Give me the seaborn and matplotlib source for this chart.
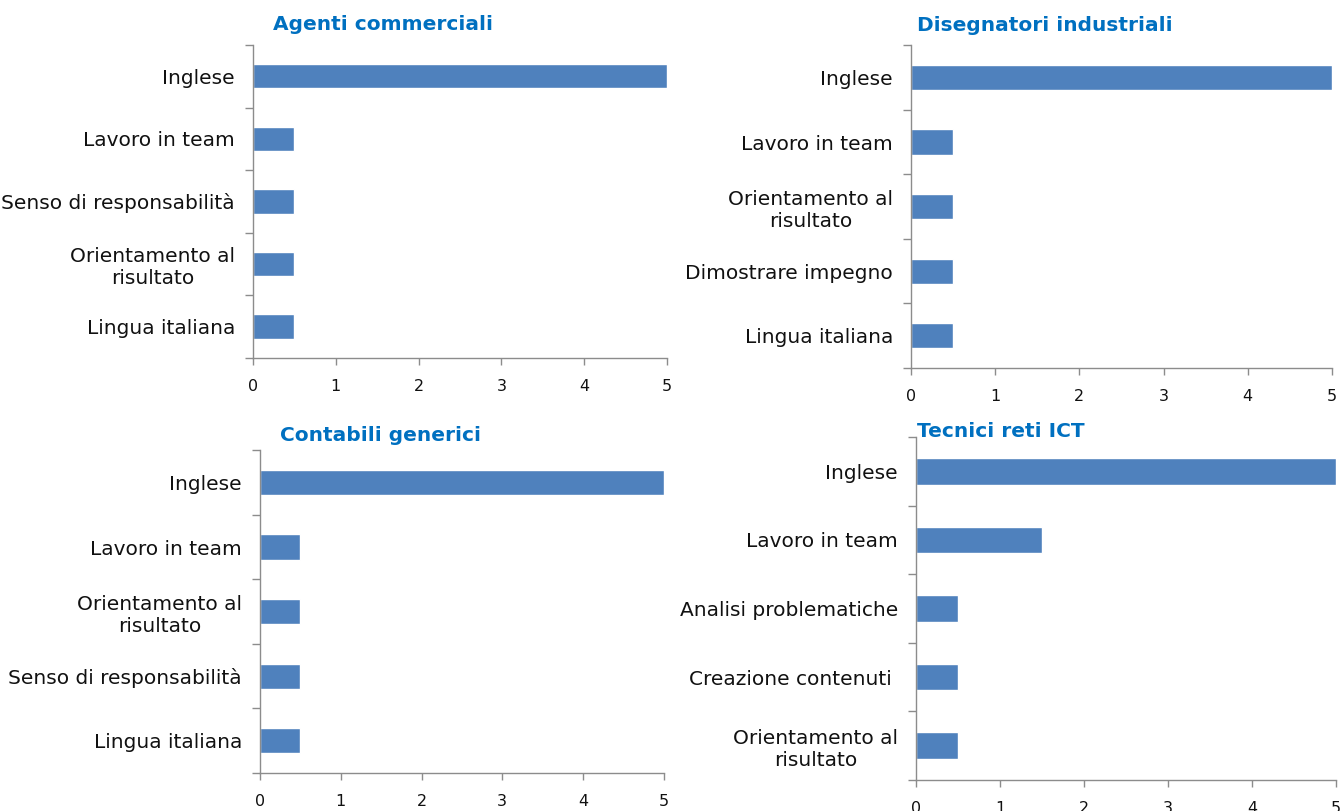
import pandas as pd
import matplotlib.pyplot as plt
import seaborn as sns

# data
titles = ['Agenti commerciali', 'Disegnatori industriali', 'Contabili generici', 'Tecnici reti ICT']
skills_agenti = ['Inglese', 'Lavoro in team', 'Senso di responsabilità', 'Orientamento al\nrisultato', 'Lingua italiana']
values_agenti = [5, 0.5, 0.5, 0.5, 0.5]
skills_disegnatori = ['Inglese', 'Lavoro in team', 'Orientamento al\nrisultato', 'Dimostrare impegno', 'Lingua italiana']
values_disegnatori = [5, 0.5, 0.5, 0.5, 0.5]
skills_contabili = ['Inglese', 'Lavoro in team', 'Orientamento al\nrisultato', 'Senso di responsabilità', 'Lingua italiana']
values_contabili = [5, 0.5, 0.5, 0.5, 0.5]
skills_tecnici = ['Inglese', 'Lavoro in team', 'Analisi problematiche', 'Creazione contenuti ', 'Orientamento al\nrisultato']
values_tecnici = [5, 1.5, 0.5, 0.5, 0.5]
x_ticks = [0, 1, 2, 3, 4, 5]

sns.set_style('white')
plt.rcParams['font.family'] = ['DejaVu Sans']

bar_color = '#4F81BD'
title_color = '#0070C0'
spine_color = '#8C8C8C'

fig = plt.figure(figsize=(13.42, 8.11), dpi=100)

panels = [
    (skills_agenti, values_agenti, [0.1885, 0.5586, 0.3085, 0.386], (0.2854, 0.970)),
    (skills_disegnatori, values_disegnatori, [0.6788, 0.5462, 0.3137, 0.398], (0.7787, 0.968)),
    (skills_contabili, values_contabili, [0.1937, 0.0469, 0.3010, 0.398], (0.2839, 0.463)),
    (skills_tecnici, values_tecnici, [0.6826, 0.0382, 0.3130, 0.423], (0.7459, 0.468)),
]

for (skills, values, rect, tpos), title in zip(panels, titles):
    ax = fig.add_axes(rect)
    df = pd.DataFrame({'skill': skills, 'value': values})
    sns.barplot(data=df, x='value', y='skill', orient='h', color=bar_color,
                saturation=1, width=0.39, ax=ax)
    ax.set_xlim(0, 5)
    ax.set_ylim(4.5, -0.5)
    ax.set_xticks(x_ticks)
    ax.set_xlabel('')
    ax.set_ylabel('')
    sns.despine(ax=ax)
    for s in ['left', 'bottom']:
        ax.spines[s].set_color(spine_color)
        ax.spines[s].set_linewidth(1)
    # category boundary ticks, Excel style
    ax.set_yticks([i + 0.5 for i in range(-1, 5)], minor=True)
    ax.tick_params(axis='y', which='minor', length=6, color=spine_color, width=1, left=True)
    ax.tick_params(axis='y', which='major', length=0, pad=13, labelsize=14.5, labelcolor='#111111')
    ax.tick_params(axis='x', length=5, color=spine_color, width=1, bottom=True,
                   pad=10, labelsize=11.5, labelcolor='#111111')
    for lab in ax.get_yticklabels():
        lab.set_multialignment('center')
    fig.text(tpos[0], tpos[1], title, color=title_color, fontsize=14.5,
             fontweight='bold', ha='center', va='center')

plt.savefig('out.png', dpi=100)
